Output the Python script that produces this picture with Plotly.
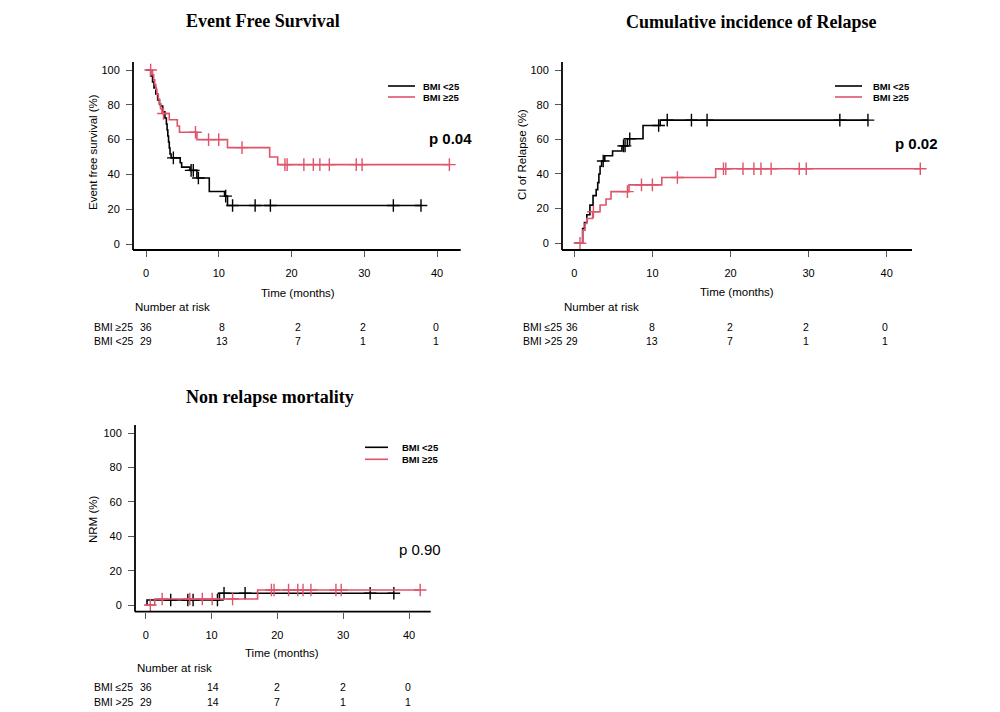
import plotly.graph_objects as go

W, H = 1000, 712
OFF = 8  # page body margin of the generated html
BLACK = "#000000"
PINK = "#DF536B"
SANS = "Liberation Sans"
SERIF = "Liberation Serif"

# ---------------- data ----------------
# Event free survival (%)
efs_lt25_t = [0, 0.64, 0.9, 1.1, 1.35, 1.6, 1.85, 2.0, 2.3, 2.6, 2.8, 2.9, 3.0, 3.1, 3.2, 3.3, 3.45, 4.7, 4.9, 6.05, 7.0, 8.7, 10.8, 11.2, 37.8]
efs_lt25_s = [100, 96.6, 93.1, 89.7, 86.2, 82.8, 80.5, 79.3, 76.0, 72.4, 69.0, 65.5, 62.1, 58.6, 55.2, 51.7, 49.5, 46.7, 44.2, 42.3, 37.9, 30.2, 27.5, 22.1, 22.1]
efs_lt25_cens = [3.76, 6.2, 6.5, 7.2, 10.95, 11.9, 15.0, 17.1, 34.0, 37.8]

efs_ge25_t = [0, 0.9, 1.05, 1.2, 1.35, 1.5, 1.7, 1.85, 2.0, 2.2, 3.2, 4.3, 4.6, 7.0, 11.2, 17.0, 18.1, 41.7]
efs_ge25_s = [100, 97.2, 94.4, 91.7, 88.9, 86.1, 83.3, 80.6, 77.8, 75.0, 71.4, 67.8, 64.2, 60.0, 55.4, 50.0, 45.6, 45.6]
efs_ge25_cens = [0.64, 2.4, 6.8, 8.6, 10.0, 13.2, 19.1, 19.4, 21.7, 23.0, 23.9, 25.2, 28.9, 29.7, 41.7]

# Cumulative incidence of relapse (%)
rel_lt25_t = [0, 1.07, 1.3, 1.6, 2.0, 2.4, 2.8, 3.0, 3.15, 3.3, 3.5, 3.9, 4.9, 6.1, 6.8, 8.8, 11.0, 37.6]
rel_lt25_s = [0, 8.5, 12.0, 16.5, 22.0, 27.5, 31.0, 35.0, 40.0, 44.5, 47.5, 50.5, 53.3, 56.2, 60.3, 68.0, 71.1, 71.1]
rel_lt25_cens = [3.7, 6.3, 6.5, 7.1, 10.8, 11.9, 15.0, 17.0, 34.0, 37.6]

rel_ge25_t = [0, 1.07, 1.37, 1.6, 2.35, 3.3, 4.06, 4.7, 7.0, 11.2, 18.1, 44.3]
rel_ge25_s = [0, 7.6, 11.4, 14.3, 18.2, 22.1, 25.6, 29.8, 33.7, 38.0, 43.0, 43.0]
rel_ge25_cens = [0.73, 2.45, 6.8, 8.6, 10.0, 13.2, 19.1, 19.4, 21.6, 23.0, 23.9, 25.2, 28.8, 29.7, 44.3]

# Non relapse mortality (%)
nrm_lt25_t = [0, 0.2, 11.2, 37.7]
nrm_lt25_s = [0, 2.9, 6.8, 6.8]
nrm_lt25_cens = [3.8, 6.4, 7.2, 10.9, 11.9, 15.1, 34.1, 37.7]

nrm_ge25_t = [0, 1.37, 17.0, 41.7]
nrm_ge25_s = [0, 3.5, 8.7, 8.7]
nrm_ge25_cens = [0.7, 2.5, 6.7, 8.6, 10.1, 13.2, 19.1, 19.5, 21.7, 23.1, 23.9, 25.1, 28.9, 29.7, 41.7]

legend_labels = ["BMI <25", "BMI \u226525"]
p_values = ["p 0.04", "p 0.02", "p 0.90"]
titles = ["Event Free Survival", "Cumulative incidence of Relapse", "Non relapse mortality"]
ytitles = ["Event free survival (%)", "CI of Relapse (%)", "NRM (%)"]
xtitle = "Time (months)"
x_ticks = [0, 10, 20, 30, 40]
y_ticks = [0, 20, 40, 60, 80, 100]

risk_efs_labels = ["BMI \u226525", "BMI <25"]
risk_efs = [[36, 8, 2, 2, 0], [29, 13, 7, 1, 1]]
risk_rel_labels = ["BMI \u226425", "BMI >25"]
risk_rel = [[36, 8, 2, 2, 0], [29, 13, 7, 1, 1]]
risk_nrm_labels = ["BMI \u226425", "BMI >25"]
risk_nrm = [[36, 14, 2, 2, 0], [29, 14, 7, 1, 1]]


def px(x):
    return (x - OFF) / W


def py(y):
    return 1 - (y - OFF) / H


def step_at(ts, ss, c):
    v = ss[0]
    for t, s in zip(ts, ss):
        if t <= c:
            v = s
    return v


fig = go.Figure()

panels = [
    ("", [(efs_lt25_t, efs_lt25_s, efs_lt25_cens, BLACK), (efs_ge25_t, efs_ge25_s, efs_ge25_cens, PINK)]),
    ("2", [(rel_lt25_t, rel_lt25_s, rel_lt25_cens, BLACK), (rel_ge25_t, rel_ge25_s, rel_ge25_cens, PINK)]),
    ("3", [(nrm_lt25_t, nrm_lt25_s, nrm_lt25_cens, BLACK), (nrm_ge25_t, nrm_ge25_s, nrm_ge25_cens, PINK)]),
]

for suf, curves in panels:
    for ts, ss, cens, col in curves:
        fig.add_trace(go.Scatter(
            x=ts, y=ss, mode="lines", line=dict(color=col, width=1.6, shape="hv"),
            xaxis="x" + suf, yaxis="y" + suf, showlegend=False, hoverinfo="skip"))
        fig.add_trace(go.Scatter(
            x=cens, y=[step_at(ts, ss, c) for c in cens], mode="markers",
            marker=dict(symbol="cross-thin", size=9, line=dict(color=col, width=1.4)),
            xaxis="x" + suf, yaxis="y" + suf, showlegend=False, hoverinfo="skip", cliponaxis=False))

# axis geometry (page pixels): drawn x-axis line left/right, plot-area right edge,
# px of t=0 and t=40; y-axis top/bottom, px of 0 and 100
geo = [
    dict(xl=133, xr=460.7, xe=460.7, x0=146, x40=437, yt=62, yb=250, y0=244, y100=70),
    dict(xl=562, xr=912, xe=935, x0=574.3, x40=886.7, yt=62, yb=250, y0=243.3, y100=70),
    dict(xl=135, xr=430.7, xe=430.7, x0=145.7, x40=409, yt=425, yb=611.7, y0=605, y100=433.3),
]

axis_common = dict(showgrid=False, zeroline=False, showline=False,
                   ticks="outside", tickcolor="#555555", tickwidth=1, ticklen=6,
                   tickfont=dict(family=SANS, size=11, color=BLACK), fixedrange=True)

layout = dict(width=W, height=H, margin=dict(l=0, r=0, t=0, b=0),
              paper_bgcolor="white", plot_bgcolor="white", showlegend=False)

shapes = []
for i, g in enumerate(geo):
    suf = "" if i == 0 else str(i + 1)
    kx = (g["x40"] - g["x0"]) / 40.0
    ky = (g["y0"] - g["y100"]) / 100.0
    xr = [(g["xl"] - g["x0"]) / kx, (g["xe"] - g["x0"]) / kx]
    yr = [-(g["yb"] - g["y0"]) / ky, 100 + (g["y100"] - g["yt"]) / ky]
    layout["xaxis" + suf] = dict(axis_common, domain=[px(g["xl"]), px(g["xe"])], range=xr,
                                 tickvals=x_ticks, anchor="y" + suf, ticklabelstandoff=7)
    layout["yaxis" + suf] = dict(axis_common, domain=[py(g["yb"]), py(g["yt"])], range=yr,
                                 tickvals=y_ticks, anchor="x" + suf, ticklabelstandoff=4)
    # L-shaped axis lines
    shapes.append(dict(type="line", xref="paper", yref="paper", x0=px(g["xl"]), x1=px(g["xr"]),
                       y0=py(g["yb"]), y1=py(g["yb"]), line=dict(color=BLACK, width=1.8)))
    shapes.append(dict(type="line", xref="paper", yref="paper", x0=px(g["xl"]), x1=px(g["xl"]),
                       y0=py(g["yb"]), y1=py(g["yt"]), line=dict(color=BLACK, width=1.8)))

fig.update_layout(**layout)

ann = []


def text(x, y, s, size=11.5, bold=False, family=SANS, xanchor="left", angle=0):
    ann.append(dict(x=px(x), y=py(y), xref="paper", yref="paper", text=("<b>%s</b>" % s) if bold else s,
                    showarrow=False, xanchor=xanchor, yanchor="middle", textangle=angle,
                    font=dict(family=family, size=size, color=BLACK)))


# titles
text(263, 21, titles[0], size=18, bold=True, family=SERIF, xanchor="center")
text(751, 22, titles[1], size=18, bold=True, family=SERIF, xanchor="center")
text(270, 397, titles[2], size=18, bold=True, family=SERIF, xanchor="center")

# y titles
text(93, 152, ytitles[0], angle=-90, xanchor="center")
text(522, 155, ytitles[1], angle=-90, xanchor="center")
text(93, 520, ytitles[2], angle=-90, xanchor="center")

# x titles
text(297.5, 292.7, xtitle, xanchor="center")
text(736.7, 292, xtitle, xanchor="center")
text(281.7, 652.7, xtitle, xanchor="center")

# legends
for (lx0, lx1, tx, y1, y2) in [(388, 415, 421, 86, 97), (835, 862, 871, 86, 97), (365, 388, 400, 447.3, 459.3)]:
    for yy, col, lab in [(y1, BLACK, legend_labels[0]), (y2, PINK, legend_labels[1])]:
        shapes.append(dict(type="line", xref="paper", yref="paper", x0=px(lx0), x1=px(lx1), y0=py(yy), y1=py(yy),
                           line=dict(color=col, width=1.6)))
        text(tx, yy, lab, size=9.5, bold=True)

# p values
text(427, 139, p_values[0], size=15, bold=True)
text(893, 143, p_values[1], size=15, bold=True)
text(397, 549, p_values[2], size=15)

# number at risk tables
tables = [
    dict(head=(133, 306.7), lab_x=91.7, rows_y=[326.7, 341], labels=risk_efs_labels, vals=risk_efs,
         xs=[146, 221.7, 298, 363, 436]),
    dict(head=(562, 306.7), lab_x=521, rows_y=[326.7, 341], labels=risk_rel_labels, vals=risk_rel,
         xs=[572, 651.7, 730, 806, 885]),
    dict(head=(135, 668), lab_x=91.7, rows_y=[686.7, 701.7], labels=risk_nrm_labels, vals=risk_nrm,
         xs=[145.5, 213, 277, 343, 408]),
]
for tb in tables:
    text(tb["head"][0], tb["head"][1], "Number at risk")
    for ry, lab, vals in zip(tb["rows_y"], tb["labels"], tb["vals"]):
        text(tb["lab_x"], ry, lab, size=10.5)
        for xx, v in zip(tb["xs"], vals):
            text(xx, ry, str(v), size=10.5, xanchor="center")

fig.update_layout(annotations=ann, shapes=shapes)
fig.write_html("out.html")
